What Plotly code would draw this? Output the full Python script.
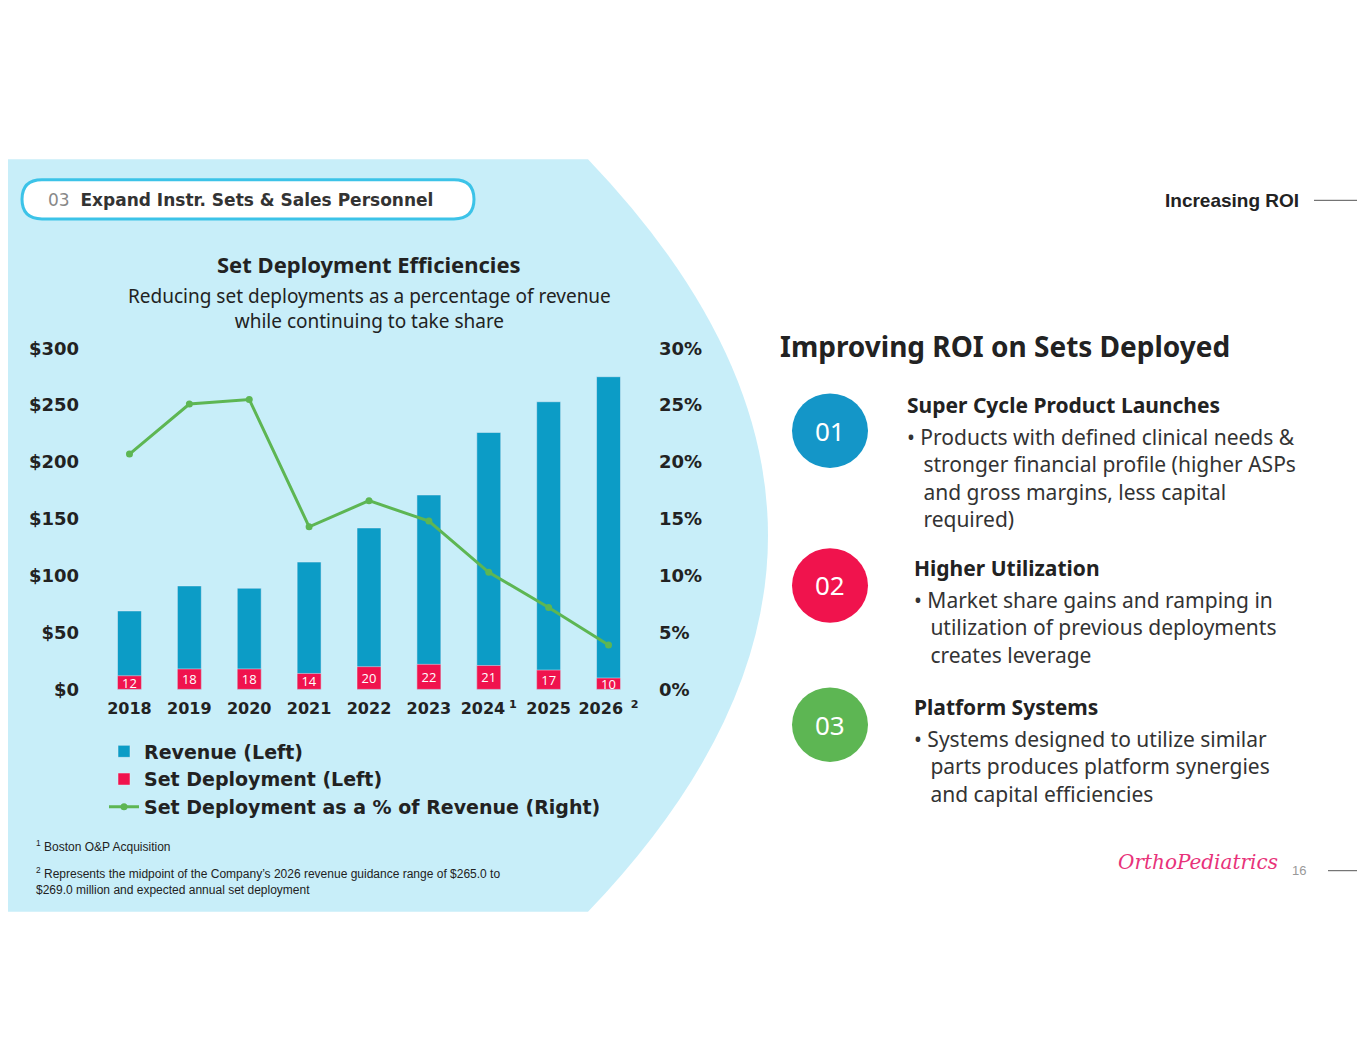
import plotly.graph_objects as go

years = ["2018", "2019", "2020", "2021", "2022", "2023", "2024", "2025", "2026"]
revenue = [69, 91, 89, 112, 142, 171, 226, 253, 275]
sets = [12, 18, 18, 14, 20, 22, 21, 17, 10]
pct = [20.7, 25.1, 25.5, 14.3, 16.6, 14.8, 10.3, 7.2, 3.9]
tick_text = ["2018", "2019", "2020", "2021", "2022", "2023", "2024<sup> 1</sup>", "2025", "2026<sup>  2</sup>"]

W, H = 1365, 1055
def X(p): return p / W
def Y(p): return 1 - p / H

BLUE = "#0C9CC6"
RED = "#F0134D"
GREEN = "#5DB653"
FONT = "Verdana, DejaVu Sans, sans-serif"

fig = go.Figure()
fig.add_bar(x=years, y=revenue, name="Revenue (Left)", marker_color=BLUE, width=0.4)
fig.add_bar(x=years, y=sets, name="Set Deployment (Left)", marker_color=RED, width=0.4,
            text=sets, textposition="inside", insidetextanchor="middle", textangle=0,
            constraintext="none", cliponaxis=False,
            textfont=dict(color="white", size=13, family="Open Sans"))
fig.add_scatter(x=years, y=pct, name="Set Deployment as a % of Revenue (Right)", yaxis="y2",
                mode="lines+markers", line=dict(color=GREEN, width=3), marker=dict(size=7))

shapes = []
path = (f"M0,{Y(143)} L{X(580)},{Y(143)} Q{X(940)},{Y(527)} {X(580)},{Y(911)} L0,{Y(911)} Z")
shapes.append(dict(type="path", xref="paper", yref="paper", path=path,
                   fillcolor="#C8EEF9", line_width=0, layer="below"))
# pill
r = 20
x0, x1, y0, y1 = 14, 466, 164, 204
pill = (f"M{X(x0+r)},{Y(y0)} L{X(x1-r)},{Y(y0)} Q{X(x1)},{Y(y0)} {X(x1)},{Y((y0+y1)/2)} "
        f"Q{X(x1)},{Y(y1)} {X(x1-r)},{Y(y1)} L{X(x0+r)},{Y(y1)} Q{X(x0)},{Y(y1)} {X(x0)},{Y((y0+y1)/2)} "
        f"Q{X(x0)},{Y(y0)} {X(x0+r)},{Y(y0)} Z")
shapes.append(dict(type="path", xref="paper", yref="paper", path=pill, fillcolor="white",
                   line=dict(color="#3CC3E8", width=3)))
shapes.append(dict(type="line", xref="paper", yref="paper", x0=X(1306), x1=X(1365), y0=Y(185), y1=Y(185),
                   line=dict(color="#555", width=1)))
shapes.append(dict(type="line", xref="paper", yref="paper", x0=X(1320), x1=X(1365), y0=Y(869), y1=Y(869),
                   line=dict(color="#555", width=1)))
circles = [(420, "01", "#1496C8"), (578, "02", RED), (720, "03", GREEN)]
for cy, lab, col in circles:
    shapes.append(dict(type="circle", xref="paper", yref="paper", x0=X(784), x1=X(860),
                       y0=Y(cy - 38), y1=Y(cy + 38), fillcolor=col, line_width=0))

ann = []
def T(x, y, text, size, color="#222", xanchor="left", family=FONT, bold=False, align="left"):
    if bold:
        text = f"<b>{text}</b>"
    ann.append(dict(xref="paper", yref="paper", x=X(x), y=Y(y), text=text, showarrow=False,
                    xanchor=xanchor, yanchor="middle", align=align,
                    font=dict(size=size, color=color, family=family)))

T(38, 185, "<span style='color:#888'>03</span>  <b>Expand Instr. Sets & Sales Personnel</b>", 17, "#333")
T(1293, 185, "Increasing ROI", 19, "#222", xanchor="right", family="Arial", bold=True)
T(361, 250, "Set Deployment Efficiencies", 22, "#222", xanchor="center", family="Noto Sans", bold=True)
T(361, 295, "Reducing set deployments as a percentage of revenue<br>while continuing to take share", 19,
  "#222", xanchor="center", family="Noto Sans", align="center")
T(770, 334, "Improving ROI on Sets Deployed", 28, "#222", family="Noto Sans", bold=True)
for cy, lab, col in circles:
    T(822, cy, lab, 26, "white", xanchor="center", family="Noto Sans")
T(897, 394, "Super Cycle Product Launches", 21, "#222", family="Noto Sans", bold=True)
T(897, 468, "• Products with defined clinical needs &amp;<br>   stronger financial profile (higher ASPs<br>"
  "   and gross margins, less capital<br>   required)", 21, "#333", family="Noto Sans")
T(904, 560, "Higher Utilization", 21, "#222", family="Noto Sans", bold=True)
T(904, 621, "• Market share gains and ramping in<br>   utilization of previous deployments<br>"
  "   creates leverage", 21, "#333", family="Noto Sans")
T(904, 702, "Platform Systems", 21, "#222", family="Noto Sans", bold=True)
T(904, 763, "• Systems designed to utilize similar<br>   parts produces platform synergies<br>"
  "   and capital efficiencies", 21, "#333", family="Noto Sans")
T(26, 844, "<sup>1</sup> Boston O&amp;P Acquisition", 12, "#222", family="Arial")
T(26, 880, "<sup>2</sup> Represents the midpoint of the Company’s 2026 revenue guidance range of $265.0 to<br>"
  "$269.0 million and expected annual set deployment", 12, "#222", family="Arial")
T(1190, 860, "<i>OrthoPediatrics</i>", 20, "#E8327A", xanchor="center", family="DejaVu Serif")
T(1291, 869, "16", 13, "#999", xanchor="center", family="Arial")

fig.update_layout(
    width=W, height=H, margin=dict(l=0, r=0, t=0, b=0),
    paper_bgcolor="white", plot_bgcolor="rgba(0,0,0,0)",
    barmode="overlay", showlegend=True,
    font=dict(family=FONT, color="#222"),
    xaxis=dict(domain=[X(90), X(632)], type="category", tickvals=years, ticktext=tick_text,
               tickfont=dict(size=16, family=FONT, weight="bold"), showgrid=False, showline=False,
               ticklabelstandoff=8),
    yaxis=dict(range=[0, 300], dtick=50, tickprefix="$", showgrid=False, zeroline=False,
               domain=[Y(684), Y(336)], tickfont=dict(size=18, weight="bold"),
               ticklabelstandoff=18),
    yaxis2=dict(range=[0, 30], dtick=5, ticksuffix="%", overlaying="y", side="right",
                showgrid=False, zeroline=False, tickfont=dict(size=18, weight="bold"),
                ticklabelstandoff=18),
    legend=dict(x=X(96), y=Y(728), xanchor="left", yanchor="top", bgcolor="rgba(0,0,0,0)",
                font=dict(size=19, weight="bold"), tracegroupgap=2, itemwidth=30),
    shapes=shapes, annotations=ann,
)
fig.write_html("out.html")
